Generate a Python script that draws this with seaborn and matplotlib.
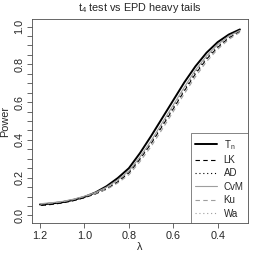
import matplotlib
matplotlib.use("Agg")
import matplotlib.pyplot as plt
import seaborn as sns
import numpy as np

lam = [1.2, 1.15, 1.1, 1.05, 1.0, 0.95, 0.9, 0.85, 0.8, 0.75,
       0.7, 0.65, 0.6, 0.55, 0.5, 0.45, 0.4, 0.35, 0.3]
tn = [0.058, 0.063, 0.070, 0.082, 0.098, 0.122, 0.155, 0.198, 0.250, 0.330,
      0.420, 0.515, 0.610, 0.705, 0.790, 0.862, 0.918, 0.958, 0.985]
lk = [0.052, 0.058, 0.066, 0.078, 0.094, 0.114, 0.140, 0.178, 0.225, 0.298,
      0.380, 0.472, 0.565, 0.660, 0.750, 0.828, 0.890, 0.940, 0.975]
ad = [0.053, 0.059, 0.067, 0.079, 0.095, 0.116, 0.143, 0.181, 0.228, 0.302,
      0.385, 0.478, 0.572, 0.667, 0.758, 0.835, 0.895, 0.943, 0.977]
cvm = [0.062, 0.067, 0.074, 0.086, 0.102, 0.122, 0.150, 0.188, 0.235, 0.310,
       0.395, 0.490, 0.585, 0.680, 0.770, 0.845, 0.905, 0.950, 0.980]
ku = [0.060, 0.065, 0.072, 0.084, 0.100, 0.117, 0.138, 0.172, 0.215, 0.285,
      0.365, 0.456, 0.550, 0.645, 0.735, 0.815, 0.880, 0.932, 0.970]
wa = [0.061, 0.066, 0.073, 0.085, 0.101, 0.120, 0.147, 0.185, 0.232, 0.306,
      0.390, 0.484, 0.578, 0.673, 0.765, 0.840, 0.900, 0.946, 0.978]

names = ["T$_n$", "LK", "AD", "CvM", "Ku", "Wa"]
series = [tn, lk, ad, cvm, ku, wa]

sns.set_style("ticks")
plt.rcParams['font.family'] = ['Liberation Sans', 'DejaVu Sans']
plt.rcParams['mathtext.fontset'] = 'custom'
plt.rcParams['mathtext.rm'] = 'Liberation Sans'
plt.rcParams['mathtext.it'] = 'Liberation Sans'

gray = '0.62'
styles = [
    dict(color='black', lw=1.4, ls='-'),
    dict(color='black', lw=0.8, dashes=(4, 3)),
    dict(color='black', lw=0.8, dashes=(1, 2.5)),
    dict(color=gray, lw=0.8, ls='-'),
    dict(color=gray, lw=0.8, dashes=(4, 3)),
    dict(color=gray, lw=0.8, dashes=(1, 2.5)),
]

fig = plt.figure(figsize=(2.54, 2.54), dpi=100)
ax = fig.add_axes([0.126, 0.122, 0.85, 0.803])

for name, vals, st in zip(names, series, styles):
    sns.lineplot(x=lam, y=vals, ax=ax, label=name, **st)

ax.set_xlim(1.236, 0.264)
ax.set_ylim(-0.04, 1.04)
ax.set_xticks([1.2, 1.0, 0.8, 0.6, 0.4])
ax.set_xticklabels(["1.2", "1.0", "0.8", "0.6", "0.4"])
ax.set_yticks(np.arange(0, 1.01, 0.05), minor=True)
ax.set_yticks([0.0, 0.2, 0.4, 0.6, 0.8, 1.0])
ax.set_yticklabels(["0.0", "0.2", "0.4", "0.6", "0.8", "1.0"], rotation=90, va='center')
ax.tick_params(axis='both', which='both', length=3.5, width=0.6, labelsize=7.8, pad=2, color='0.3')
ax.tick_params(axis='y', which='minor', length=3.5)

for sp in ax.spines.values():
    sp.set_linewidth(0.6)
    sp.set_color('0.3')

ax.set_xlabel("λ", fontsize=7.8, labelpad=1)
ax.set_ylabel("Power", fontsize=7.8, labelpad=3)
ax.set_title("t$_4$ test vs EPD heavy tails", fontsize=7.8, pad=6)

leg = ax.legend(loc='lower right', fontsize=7, frameon=True, fancybox=False,
                borderaxespad=0, handlelength=2.2, labelspacing=0.35,
                borderpad=0.45, handletextpad=0.7)
leg.get_frame().set_edgecolor('0.3')
leg.get_frame().set_linewidth(0.6)

fig.savefig("out.png", dpi=100)
